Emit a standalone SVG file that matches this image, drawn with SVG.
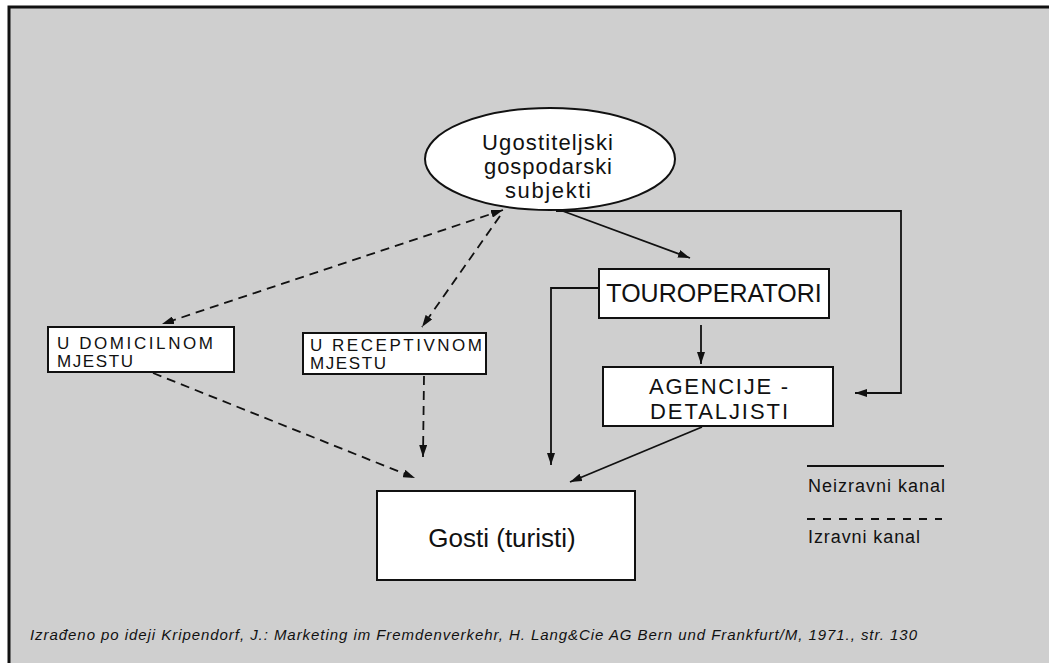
<svg xmlns="http://www.w3.org/2000/svg" width="1049" height="663" viewBox="0 0 1049 663">
<style>
.frame{fill:#cfcfcf;stroke:#111;stroke-width:3}
.box{fill:#fff;stroke:#111;stroke-width:2}
.t{font-family:"Liberation Sans",Arial,sans-serif;fill:#111}
.solid{fill:none;stroke:#111;stroke-width:1.8}
.dash{fill:none;stroke:#111;stroke-width:1.8;stroke-dasharray:9 6}
</style>
<defs>
<marker id="ah" viewBox="0 0 12 8" refX="12" refY="4" markerWidth="12" markerHeight="8" markerUnits="userSpaceOnUse" orient="auto-start-reverse">
<path d="M0,0 L12,4 L0,8 Z" fill="#111"/>
</marker>
</defs>
<rect class="frame" x="9" y="7" width="1045" height="665"/>
<g id="connectors">
<path class="solid" d="M560,210 L690,258" marker-end="url(#ah)"/>
<path class="solid" d="M556,211 L901,211 L901,393 L855,393" marker-end="url(#ah)"/>
<path class="solid" d="M599,288 L551,288 L551,465" marker-end="url(#ah)"/>
<path class="solid" d="M701,325 L701,364" marker-end="url(#ah)"/>
<path class="solid" d="M702,427 L570,482" marker-end="url(#ah)"/>
<path class="dash" d="M503,210 L162,324" marker-start="url(#ah)" marker-end="url(#ah)"/>
<path class="dash" d="M500,216 L422,327" marker-end="url(#ah)"/>
<path class="dash" d="M153,373 L415,478" marker-end="url(#ah)"/>
<path class="dash" d="M424,376 L423,457" marker-end="url(#ah)"/>
</g>
<g id="ugostiteljski">
<ellipse cx="550" cy="159" rx="125" ry="51" fill="#fff" stroke="#111" stroke-width="2"/>
<text class="t" font-size="22" x="482" y="150" textLength="131">Ugostiteljski</text>
<text class="t" font-size="22" x="484" y="174" textLength="128">gospodarski</text>
<text class="t" font-size="22" x="505" y="198" textLength="86">subjekti</text>
</g>
<g id="domicilnom">
<rect class="box" x="48" y="327" width="186" height="45"/>
<text class="t" font-size="17" x="57" y="349" textLength="156">U DOMICILNOM</text>
<text class="t" font-size="17" x="57" y="367" textLength="76">MJESTU</text>
</g>
<g id="receptivnom">
<rect class="box" x="303" y="333" width="183" height="41"/>
<text class="t" font-size="17" x="310" y="351" textLength="172">U RECEPTIVNOM</text>
<text class="t" font-size="17" x="310" y="369" textLength="76">MJESTU</text>
</g>
<g id="touroperatori">
<rect class="box" x="599" y="269" width="230" height="49"/>
<text class="t" font-size="25" text-anchor="middle" x="714" y="302">TOUROPERATORI</text>
</g>
<g id="agencije">
<rect class="box" x="603" y="367" width="230" height="59"/>
<text class="t" font-size="22" x="649" y="394" textLength="139">AGENCIJE -</text>
<text class="t" font-size="22" x="650" y="419" textLength="138">DETALJISTI</text>
</g>
<g id="gosti">
<rect class="box" x="377" y="491" width="258" height="89"/>
<text class="t" font-size="26" text-anchor="middle" x="502" y="547">Gosti (turisti)</text>
</g>
<g id="legend">
<line class="solid" x1="807" y1="466" x2="944" y2="466"/>
<text class="t" font-size="18" x="808" y="492" textLength="137">Neizravni kanal</text>
<line class="dash" x1="807" y1="519" x2="942" y2="519" style="stroke-dasharray:8 8"/>
<text class="t" font-size="18" x="808" y="543" textLength="112">Izravni kanal</text>
</g>
<g id="footer">
<text class="t" font-size="15" font-style="italic" x="30" y="640" textLength="887">Izrađeno po ideji Kripendorf, J.: Marketing im Fremdenverkehr, H. Lang&amp;Cie AG Bern und Frankfurt/M, 1971., str. 130</text>
</g>
</svg>
